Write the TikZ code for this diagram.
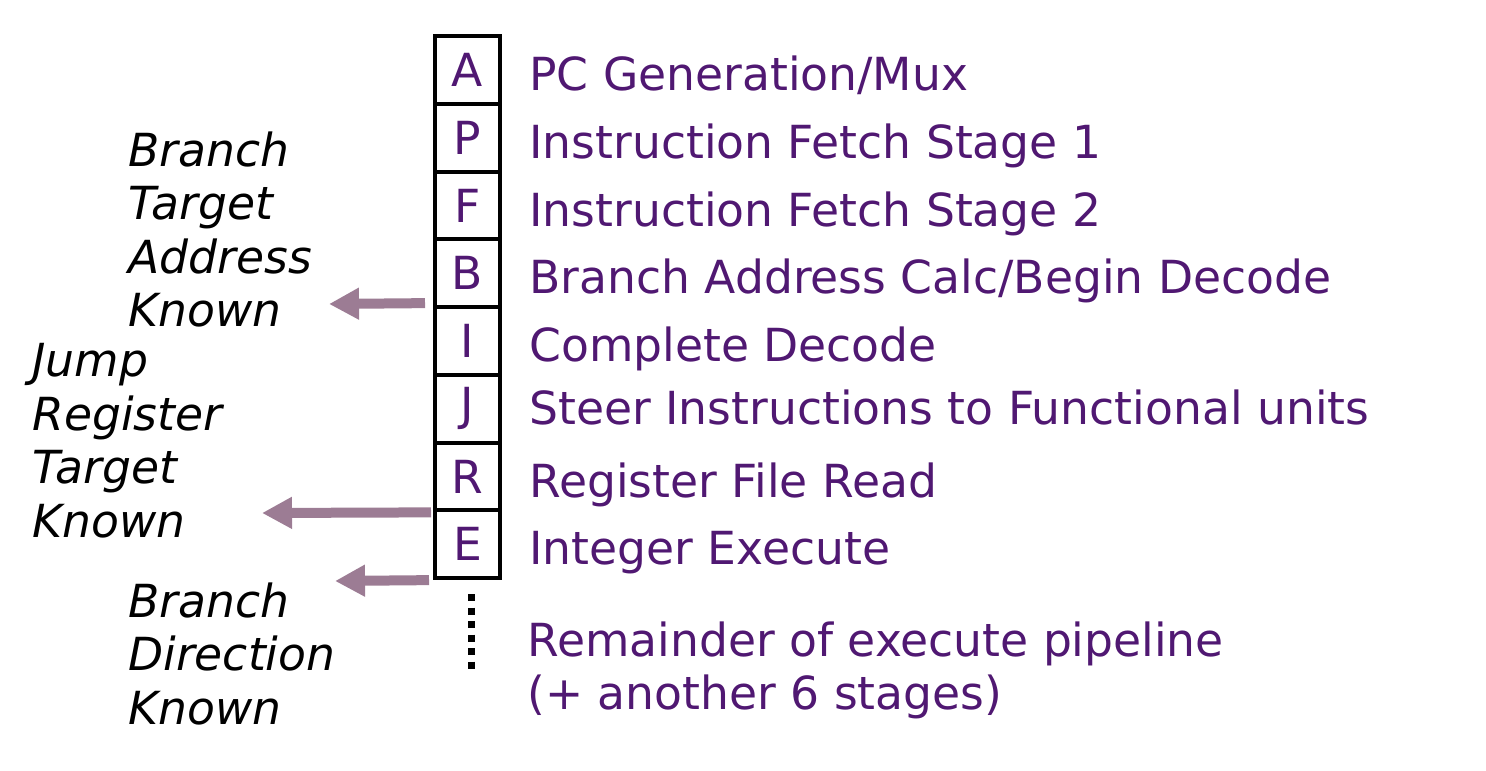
\documentclass[tikz,border=0pt]{standalone}
\usepackage{fontspec}
\setmainfont{DejaVu Sans}
\usetikzlibrary{arrows.meta,positioning}
\definecolor{stagepurple}{RGB}{80,24,114}
\definecolor{knownmauve}{RGB}{156,124,148}
\newcommand{\pipefont}{\fontsize{22.8}{26.75}\selectfont}
\tikzset{
  stagebox/.style = {
    rectangle,
    draw,
    line width=2pt,
    outer sep=0pt,
    inner sep=0pt,
    minimum width=32.5pt,
    minimum height=33.875pt,
    text=stagepurple
  },
  stagelabel/.style = {
    anchor=base west,
    inner sep=0pt,
    text=stagepurple
  },
  knownlabel/.style = {
    anchor=north west,
    inner sep=0pt,
    align=left,
    font=\pipefont\itshape
  },
  knownarrow/.style = {
    -{Triangle[length=15pt,width=15pt]},
    line width=5pt,
    draw=knownmauve
  },
  stagedots/.style = {
    line width=3.5pt,
    dash pattern=on 3.5pt off 3.25pt
  }
}

\begin{document}
\begin{tikzpicture}[x=0.5pt,y=-0.5pt,font=\pipefont]
    \useasboundingbox (0,0) rectangle (1486,770);
    % pipeline stages
    \node[stagebox] (A) at (467.5,70) {A};
    \node[stagebox, below=0pt of A] (P) {P};
    \node[stagebox, below=0pt of P] (F) {F};
    \node[stagebox, below=0pt of F] (B) {B};
    \node[stagebox, below=0pt of B] (I) {I};
    \node[stagebox, below=0pt of I] (J) {J};
    \node[stagebox, below=0pt of J] (R) {R};
    \node[stagebox, below=0pt of R] (E) {E};
    \node[stagelabel] (labA) at ([xshift=14.5pt,yshift=-2pt]A.base east) {PC Generation/Mux};
    \node[stagelabel] (labP) at ([xshift=14.5pt,yshift=-2pt]P.base east) {Instruction Fetch Stage 1};
    \node[stagelabel] (labF) at ([xshift=14.5pt,yshift=-2pt]F.base east) {Instruction Fetch Stage 2};
    \node[stagelabel] (labB) at ([xshift=14.5pt,yshift=-2pt]B.base east) {Branch Address Calc/Begin Decode};
    \node[stagelabel] (labI) at ([xshift=14.5pt,yshift=-2pt]I.base east) {Complete Decode};
    \node[stagelabel] (labJ) at ([xshift=14.5pt,yshift=-2pt]J.base east) {Steer Instructions to Functional units};
    \node[stagelabel] (labR) at ([xshift=14.5pt,yshift=-2pt]R.base east) {Register File Read};
    \node[stagelabel] (labE) at ([xshift=14.5pt,yshift=-2pt]E.base east) {Integer Execute};
    \draw[stagedots] ([xshift=1.75pt,yshift=-8pt]E.south) -- ++(0,-37.25pt);
    \node[stagelabel, anchor=north west, align=left] (rest) at (527,621) {Remainder of execute pipeline\\(+ another 6 stages)};
    % what is known when
    \node[knownlabel] (addrknown) at (128,131) {Branch\\Target\\Address\\Known};
    \node[knownlabel] (jrknown) at (32,343) {Jump\\Register\\Target\\Known};
    \node[knownlabel] (dirknown) at (128,582) {Branch\\Direction\\Known};
    \coordinate (addrtip) at (329,304);
    \coordinate (jrtip) at (262,513);
    \coordinate (dirtip) at (335,581);
    \draw[knownarrow] ([xshift=-5pt,yshift=2pt]B.south west) -- (addrtip);
    \draw[knownarrow] ([xshift=-2pt,yshift=-1pt]R.south west) -- (jrtip);
    \draw[knownarrow] ([xshift=-3pt,yshift=-1pt]E.south west) -- (dirtip);
  \end{tikzpicture}
\end{document}
